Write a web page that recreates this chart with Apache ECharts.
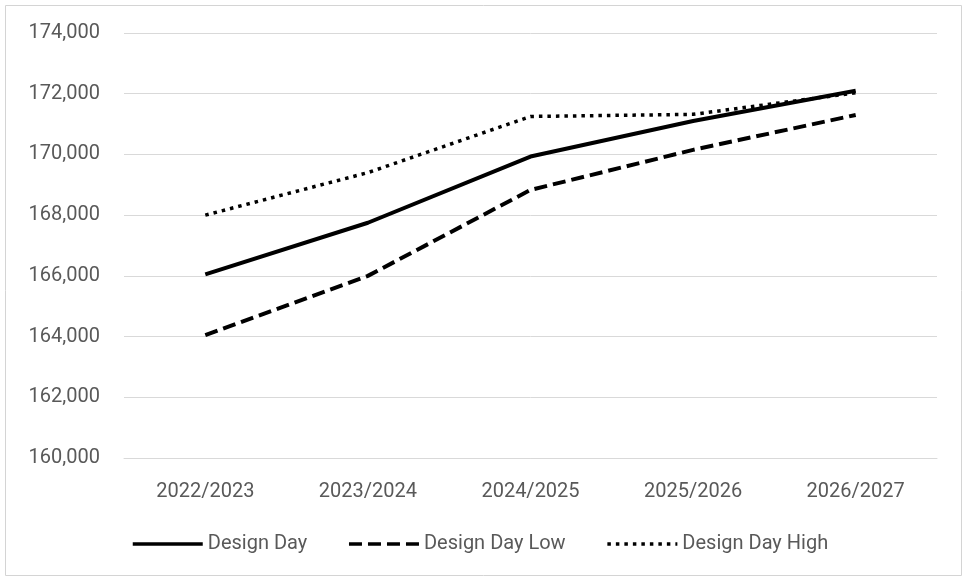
<!DOCTYPE html>
<html><head><meta charset="utf-8">
<script src="https://cdn.jsdelivr.net/npm/echarts@6/dist/echarts.min.js"></script>
<style>html,body{margin:0;padding:0;background:#fff}#c{width:966px;height:579px}</style>
</head><body><div id="c"></div>
<script>
var categories = ['2022/2023','2023/2024','2024/2025','2025/2026','2026/2027'];
var designDay = [166050, 167750, 169930, 171100, 172100];
var designDayLow = [164050, 166000, 168830, 170150, 171300];
var designDayHigh = [168000, 169400, 171250, 171320, 172030];
var seriesNames = ['Design Day','Design Day Low','Design Day High'];
var yMin = 160000, yMax = 174000, yStep = 2000;

var FONT = 'Roboto';
var chart = echarts.init(document.getElementById('c'));
chart.setOption({
  animation: false,
  backgroundColor: '#fff',
  textStyle: {fontFamily: FONT},
  graphic: [{type:'rect', shape:{x:5.5,y:5.5,width:956,height:570}, style:{fill:'none', stroke:'#d4d4d4', lineWidth:1}, silent:true}],
  grid: {left:124, right:29, top:33, bottom:121},
  xAxis: {
    type:'category', data: categories, boundaryGap:true,
    axisLine:{show:true, lineStyle:{color:'#d9d9d9', width:1}},
    axisTick:{show:false},
    axisLabel:{color:'#595959', fontSize:20, margin:24, fontFamily:FONT}
  },
  yAxis: {
    type:'value', min:yMin, max:yMax, interval:yStep,
    axisLine:{show:false}, axisTick:{show:false},
    splitLine:{lineStyle:{color:'#d9d9d9', width:1}},
    axisLabel:{color:'#595959', fontSize:20, margin:24, fontFamily:FONT,
      formatter:function(v){return v.toLocaleString('en-US');}}
  },
  legend: {
    bottom: 20, left: 126, itemWidth: 70, itemHeight: 14, itemGap: 40,
    itemStyle:{opacity:0},
    lineStyle:{width:3.5},
    textStyle:{color:'#595959', fontSize:20, fontFamily:FONT},
    data: seriesNames
  },
  series: [
    {name:seriesNames[0], type:'line', data:designDay, symbol:'none',
     lineStyle:{color:'#000', width:4, type:'solid'}, itemStyle:{color:'#000'}, z:3},
    {name:seriesNames[1], type:'line', data:designDayLow, symbol:'none',
     lineStyle:{color:'#000', width:4, type:[13,6]}, itemStyle:{color:'#000'}, z:2},
    {name:seriesNames[2], type:'line', data:designDayHigh, symbol:'none',
     lineStyle:{color:'#000', width:3.5, type:[3.5,5]}, itemStyle:{color:'#000'}, z:2}
  ]
});
</script></body></html>
